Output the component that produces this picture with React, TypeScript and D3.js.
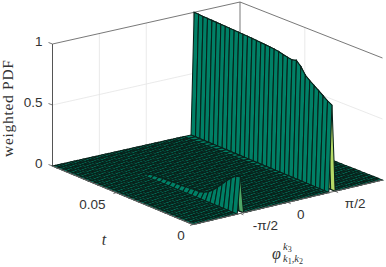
import React from "react";
import * as d3 from "d3";

const phiTicks = [-Math.PI / 2, 0, Math.PI / 2];
const phiTickLabels = ["-π/2", "0", "π/2"];
const phiLabelDx = [25, 13, 20];
const phiLabelDy = [17, 17, 17];
const tTicks = [0, 0.05];
const tTickLabels = ["0", "0.05"];
const tLabelDx = [-12, -24];
const tLabelDy = [15, 16];
const zTicks = [0, 0.5, 1];
const zTickLabels = ["0", "0.5", "1"];
const tMax = 0.0917;
const phiCells = 60;
const tCells = 31;
const highIdx = 44;
const lowIdx = 15;
const ridgeDrift = 0.14;
// weighted PDF along t on the ridge near phi = +pi/2 (t index 0..31)
const ridgeHigh = [0.71, 0.73, 0.757, 0.784, 0.81, 0.835, 0.865, 0.92, 0.955, 0.945, 0.95, 0.958, 0.968, 0.972, 0.975, 0.978, 0.98, 0.982, 0.984, 0.986, 0.987, 0.988, 0.989, 0.99, 0.991, 0.992, 0.993, 0.994, 0.995, 0.996, 0.998, 1];
// weighted PDF along t on the ridge near phi = -pi/2
const ridgeLow = [0.3, 0.29, 0.26, 0.22, 0.18, 0.14, 0.1, 0.07, 0.05, 0.04, 0.04, 0.035, 0.035, 0.03, 0.03, 0.03, 0.025, 0.025, 0.02, 0.02, 0.015, 0, 0, 0, 0, 0, 0, 0, 0, 0, 0, 0];

const phiGrid = d3.range(phiCells + 1).map((i) => -Math.PI + (2 * Math.PI * i) / phiCells);
const tGrid = d3.range(tCells + 1).map((j) => (tMax * j) / tCells);

const zAt = (i: number, j: number) => (i === highIdx ? ridgeHigh[j] : i === lowIdx ? ridgeLow[j] : 0);
const phiAt = (i: number, j: number) => phiGrid[i] + (Math.abs(i - highIdx) <= 1 ? (ridgeDrift * j) / tCells : 0);

const front = [193, 224.5];
const uStep = [189.5, -44.5];
const vStep = [-140.5, -58.5];
const warp = [-2, 2.5];
const uScale = d3.scaleLinear().domain([-Math.PI, Math.PI]).range([0, 1]);
const vScale = d3.scaleLinear().domain([0, tMax]).range([0, 1]);
const zScale = d3.scaleLinear().domain([0, 1]).range([0, -122]);

const proj = (phi: number, t: number, z: number): [number, number] => {
  const u = uScale(phi);
  const v = vScale(t);
  return [
    front[0] + u * uStep[0] + v * vStep[0] + u * v * warp[0],
    front[1] + u * uStep[1] + v * vStep[1] + u * v * warp[1] + zScale(z),
  ];
};
const summer = (z: number) => `rgb(${Math.round(255 * z)},${Math.round(255 * (0.5 + 0.5 * z))},102)`;
const line3 = (a: [number, number, number], b: [number, number, number], stroke: string, w = 0.8) => {
  const p = proj(...a);
  const q = proj(...b);
  return <line x1={p[0]} y1={p[1]} x2={q[0]} y2={q[1]} stroke={stroke} strokeWidth={w} />;
};
const pi = Math.PI;
const gridC = "#e4e4e4";
const axisC = "#555";
const sans = "'Liberation Sans', Arial, sans-serif";
const serif = "'Liberation Serif', serif";
const txt = "#333";

export default function App() {
  const cells: React.ReactNode[] = [];
  for (let i = phiCells - 1; i >= 0; i--) {
    for (let j = tCells - 1; j >= 0; j--) {
      const pts = [
        proj(phiAt(i, j), tGrid[j], zAt(i, j)),
        proj(phiAt(i + 1, j), tGrid[j], zAt(i + 1, j)),
        proj(phiAt(i + 1, j + 1), tGrid[j + 1], zAt(i + 1, j + 1)),
        proj(phiAt(i, j + 1), tGrid[j + 1], zAt(i, j + 1)),
      ];
      cells.push(
        <polygon key={`${i}-${j}`} points={pts.map((p) => p.join(",")).join(" ")} fill={summer(zAt(i, j))} stroke="#08211a" strokeWidth={1.05} />
      );
    }
  }
  return (
    <svg width={386} height={267} style={{ position: "absolute", left: 0, top: 0, background: "#fff" }}>
      {phiTicks.map((p, k) => (
        <g key={k}>
          {line3([p, tMax, 0], [p, tMax, 1], gridC)}
        </g>
      ))}
      {tTicks.slice(1).map((t, k) => (
        <g key={k}>{line3([pi, t, 0], [pi, t, 1], gridC)}</g>
      ))}
      {line3([-pi, tMax, 0.5], [pi, tMax, 0.5], gridC)}
      {line3([pi, 0, 0.5], [pi, tMax, 0.5], gridC)}
      {line3([-pi, tMax, 1], [pi, tMax, 1], axisC)}
      {line3([pi, tMax, 1], [pi, 0, 1], axisC)}
      {line3([pi, tMax, 0], [pi, tMax, 1], axisC)}
      {line3([-pi, tMax, 0], [-pi, tMax, 1], axisC, 1)}
      {cells}
      {line3([-pi, 0, 0], [-pi, tMax, 0], "#666", 1.2)}
      {line3([-pi, 0, 0], [pi, 0, 0], "#666", 1.2)}
      {phiTicks.map((p, k) => {
        const a = proj(p, 0, 0);
        return <line key={k} x1={a[0]} y1={a[1]} x2={a[0] + 3} y2={a[1] + 1.5} stroke={axisC} strokeWidth={0.8} />;
      })}
      {tTicks.map((t, k) => {
        const a = proj(-pi, t, 0);
        return <line key={k} x1={a[0]} y1={a[1]} x2={a[0] - 3} y2={a[1] + 1} stroke={axisC} strokeWidth={0.8} />;
      })}
      {zTicks.map((z, k) => {
        const a = proj(-pi, tMax, z);
        return <line key={k} x1={a[0]} y1={a[1]} x2={a[0] - 4} y2={a[1] - 1.5} stroke={axisC} strokeWidth={0.8} />;
      })}
      <g fontFamily={sans} fontSize={13.5} fill={txt}>
        {zTickLabels.map((l, k) => {
          const a = proj(-pi, tMax, zTicks[k]);
          return <text key={k} x={a[0] - 10} y={a[1] + 2} textAnchor="end">{l}</text>;
        })}
        {tTickLabels.map((l, k) => {
          const a = proj(-pi, tTicks[k], 0);
          return <text key={k} x={a[0] + tLabelDx[k]} y={a[1] + tLabelDy[k]} textAnchor="middle">{l}</text>;
        })}
        {phiTickLabels.map((l, k) => {
          const a = proj(phiTicks[k], 0, 0);
          return <text key={k} x={a[0] + phiLabelDx[k]} y={a[1] + phiLabelDy[k]} textAnchor="middle">{l}</text>;
        })}
      </g>
      <text x={13} y={108.5} transform="rotate(-90 13 108.5)" textAnchor="middle" fontFamily={serif} fontSize={15.5} textLength={97} fill={txt}>weighted PDF</text>
      <text x={104} y={245} textAnchor="middle" fontFamily={serif} fontStyle="italic" fontSize={16} fill={txt}>t</text>
      <g fontFamily={serif} fill={txt}>
        <text x={272} y={259} fontSize={16} fontStyle="italic">φ</text>
        <text x={283} y={250} fontSize={10.5} fontStyle="italic">k<tspan dy={2} fontSize={8} fontStyle="normal">3</tspan></text>
        <text x={283} y={262} fontSize={10.5} fontStyle="italic">k<tspan dy={2} fontSize={8} fontStyle="normal">1</tspan><tspan dy={-2}>,k</tspan><tspan dy={2} fontSize={8} fontStyle="normal">2</tspan></text>
      </g>
    </svg>
  );
}
